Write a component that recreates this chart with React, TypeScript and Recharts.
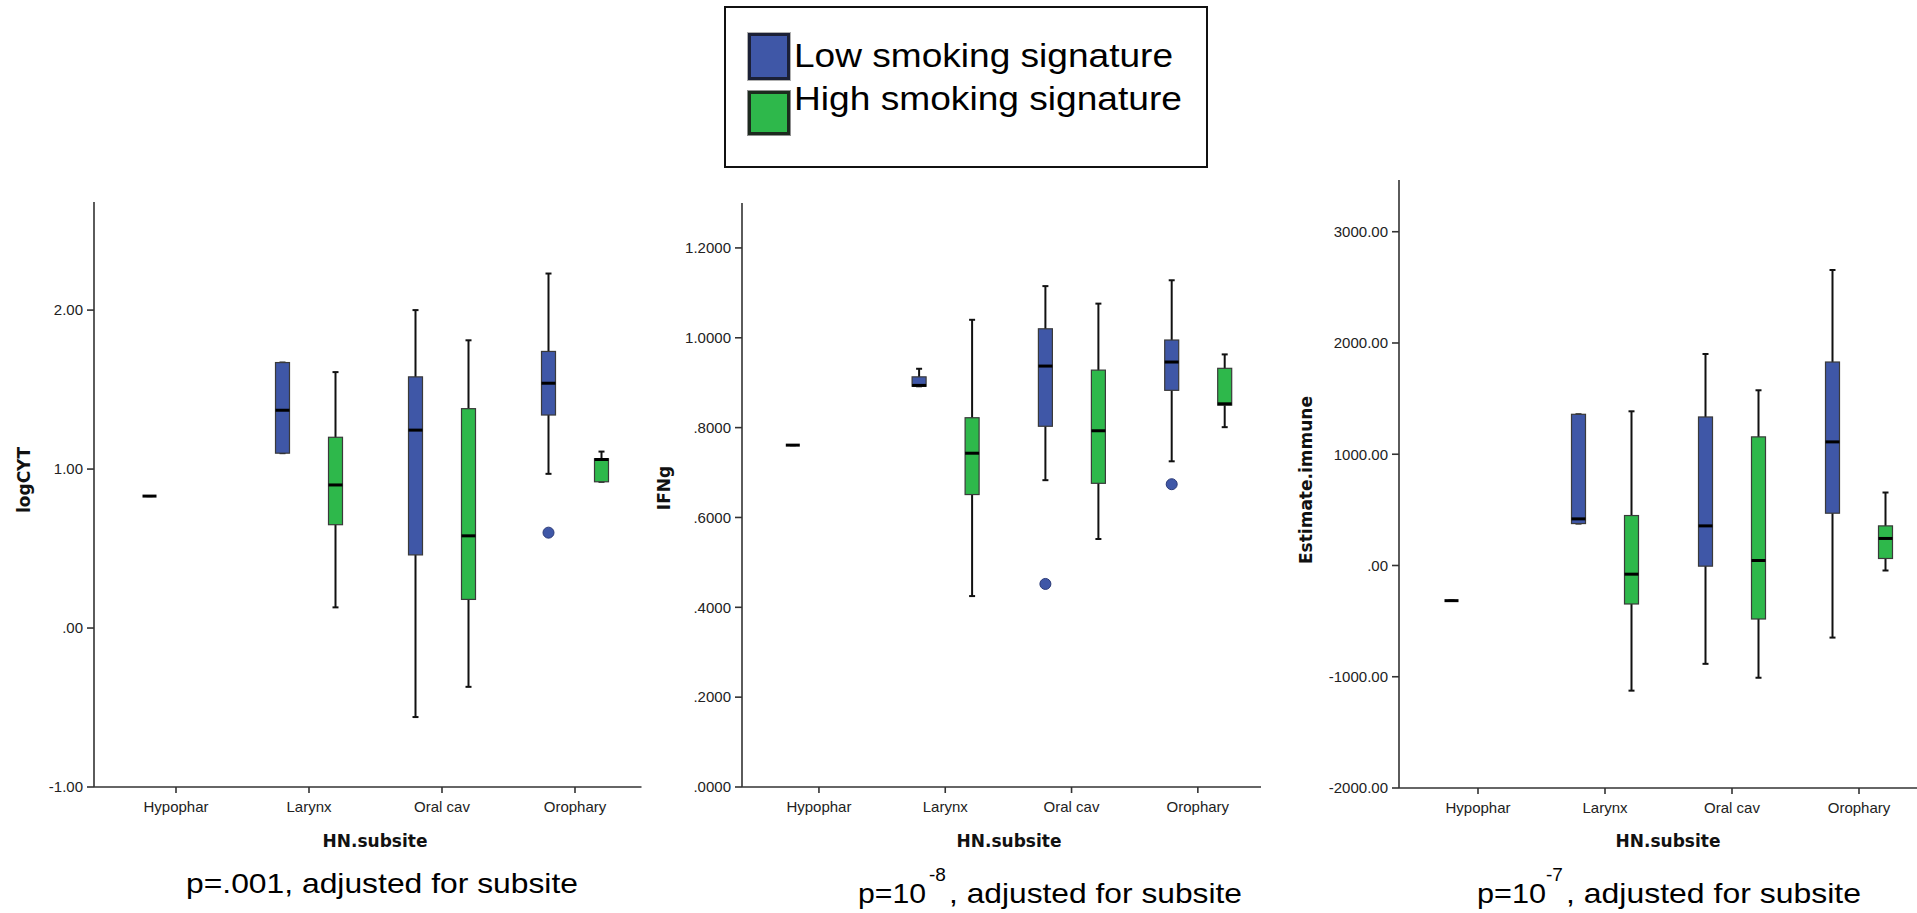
import React from "react";
import { ComposedChart, Bar, XAxis, YAxis } from "recharts";

// categories on the x axis
const subsites = ["Hypophar", "Larynx", "Oral cav", "Orophary"];

// box stats per subsite: [min, q1, median, q3, max]
const cytLow = [
  [0.83, 0.83, 0.83, 0.83, 0.83],
  [1.1, 1.1, 1.37, 1.67, 1.67],
  [-0.56, 0.46, 1.245, 1.58, 2.0],
  [0.97, 1.34, 1.54, 1.74, 2.23],
];
const cytHigh = [
  null,
  [0.13, 0.65, 0.9, 1.2, 1.61],
  [-0.37, 0.18, 0.58, 1.38, 1.81],
  [0.92, 0.92, 1.06, 1.065, 1.11],
];
const cytLowOutliers = [null, null, null, 0.6];
const cytHighOutliers = [null, null, null, null];

const ifnLow = [
  [0.761, 0.761, 0.761, 0.761, 0.761],
  [0.892, 0.892, 0.894, 0.913, 0.931],
  [0.683, 0.803, 0.937, 1.02, 1.115],
  [0.725, 0.883, 0.946, 0.995, 1.128],
];
const ifnHigh = [
  null,
  [0.425, 0.651, 0.743, 0.822, 1.04],
  [0.552, 0.676, 0.793, 0.928, 1.076],
  [0.801, 0.85, 0.853, 0.932, 0.963],
];
const ifnLowOutliers = [null, null, 0.452, 0.674];
const ifnHighOutliers = [null, null, null, null];

const immLow = [
  [-316, -316, -316, -316, -316],
  [377, 377, 419, 1359, 1359],
  [-884, -6, 356, 1335, 1901],
  [-648, 470, 1111, 1829, 2656],
];
const immHigh = [
  null,
  [-1125, -346, -78, 449, 1386],
  [-1009, -481, 45, 1156, 1575],
  [-45, 63, 243, 356, 656],
];
const immLowOutliers = [null, null, null, null];
const immHighOutliers = [null, null, null, null];

// y axis ticks
const cytTicks = [-1, 0, 1, 2];
const ifnTicks = [0, 0.2, 0.4, 0.6, 0.8, 1.0, 1.2];
const immTicks = [-2000, -1000, 0, 1000, 2000, 3000];

const groupNames = ["Low smoking signature", "High smoking signature"];

const BLUE = "#3F57A7";
const GREEN = "#2EB84B";
const TICK_FONT = "'Liberation Sans', Arial, sans-serif";
const BOLD_FONT = "'DejaVu Sans', Verdana, sans-serif";
const Y_AXIS_W = 80;
const X_AXIS_H = 30;
const H = 913;

type Stat = number[] | null;

function buildRows(low: Stat[], high: Stat[], lowOut: (number | null)[], highOut: (number | null)[]) {
  return subsites.map((cat, i) => {
    const l = low[i];
    const h = high[i];
    return {
      cat,
      lowWh: l ? [l[0], l[4]] : undefined,
      lowBox: l ? [l[1], l[3]] : undefined,
      lowMed: l ? [l[2], l[2]] : undefined,
      lowOut: lowOut[i] != null ? [lowOut[i], lowOut[i]] : undefined,
      highWh: h ? [h[0], h[4]] : undefined,
      highBox: h ? [h[1], h[3]] : undefined,
      highMed: h ? [h[2], h[2]] : undefined,
      highOut: highOut[i] != null ? [highOut[i], highOut[i]] : undefined,
    };
  });
}

const fmt = (digits: number) => (v: number) =>
  v.toFixed(digits).replace(/^(-?)0\./, "$1.");

const whiskerShape = (field: string) => (props: any) => {
  const { x, y, width, height, payload } = props;
  if (!payload || !payload[field]) return <g />;
  const cx = x + width / 2;
  return (
    <g>
      <line x1={cx} x2={cx} y1={y} y2={y + height} stroke="#111" strokeWidth={2} />
      <line x1={cx - 3} x2={cx + 3} y1={y} y2={y} stroke="#111" strokeWidth={2} />
      <line x1={cx - 3} x2={cx + 3} y1={y + height} y2={y + height} stroke="#111" strokeWidth={2} />
    </g>
  );
};

const boxShape = (field: string, color: string) => (props: any) => {
  const { x, y, width, height, payload } = props;
  if (!payload || !payload[field]) return <g />;
  return (
    <rect x={x} y={y} width={width} height={Math.max(height, 0)} fill={color} stroke="#3a3a3a" strokeWidth={1.2} />
  );
};

const medianShape = (field: string) => (props: any) => {
  const { x, y, width, payload } = props;
  if (!payload || !payload[field]) return <g />;
  return <line x1={x} x2={x + width} y1={y} y2={y} stroke="#000" strokeWidth={3} />;
};

const outlierShape = (field: string, color: string) => (props: any) => {
  const { x, y, width, payload } = props;
  if (!payload || !payload[field]) return <g />;
  return <circle cx={x + width / 2} cy={y} r={5.5} fill={color} stroke="#2b3a78" strokeWidth={1} />;
};

type PanelCfg = {
  left: number;
  right: number;
  top: number;
  bottom: number;
  pad: number;
  domain: [number, number];
  ticks: number[];
  digits: number;
};

function BoxPanel({ cfg, rows }: { cfg: PanelCfg; rows: any[] }) {
  const plotW = cfg.right - cfg.left;
  const axisStyle = { stroke: "#333", strokeWidth: 1.6 };
  const tick = { fontSize: 15, fill: "#222", fontFamily: TICK_FONT };
  const pad = { left: cfg.pad, right: 0 };
  return (
    <div style={{ position: "absolute", left: cfg.left - Y_AXIS_W, top: 0 }}>
      <ComposedChart
        width={Y_AXIS_W + plotW}
        height={H}
        data={rows}
        barGap={39}
        margin={{ top: cfg.top, bottom: H - cfg.bottom - X_AXIS_H, left: 0, right: 0 }}
      >
        <XAxis xAxisId="wh" dataKey="cat" hide padding={pad} />
        <XAxis xAxisId="med" dataKey="cat" hide padding={pad} />
        <XAxis xAxisId="out" dataKey="cat" hide padding={pad} />
        <XAxis
          xAxisId="box"
          dataKey="cat"
          height={X_AXIS_H}
          padding={pad}
          interval={0}
          tick={tick}
          tickSize={6}
          tickMargin={8}
          axisLine={axisStyle}
          tickLine={axisStyle}
        />
        <YAxis
          width={Y_AXIS_W}
          type="number"
          domain={cfg.domain}
          ticks={cfg.ticks}
          interval={0}
          tickFormatter={fmt(cfg.digits)}
          tick={tick}
          tickSize={7}
          tickMargin={4}
          axisLine={axisStyle}
          tickLine={axisStyle}
        />
        <Bar xAxisId="wh" dataKey="lowWh" barSize={14} isAnimationActive={false} shape={whiskerShape("lowWh")} />
        <Bar xAxisId="wh" dataKey="highWh" barSize={14} isAnimationActive={false} shape={whiskerShape("highWh")} />
        <Bar xAxisId="box" dataKey="lowBox" barSize={14} isAnimationActive={false} shape={boxShape("lowBox", BLUE)} />
        <Bar xAxisId="box" dataKey="highBox" barSize={14} isAnimationActive={false} shape={boxShape("highBox", GREEN)} />
        <Bar xAxisId="med" dataKey="lowMed" barSize={14} isAnimationActive={false} shape={medianShape("lowMed")} />
        <Bar xAxisId="med" dataKey="highMed" barSize={14} isAnimationActive={false} shape={medianShape("highMed")} />
        <Bar xAxisId="out" dataKey="lowOut" barSize={14} isAnimationActive={false} shape={outlierShape("lowOut", BLUE)} />
        <Bar xAxisId="out" dataKey="highOut" barSize={14} isAnimationActive={false} shape={outlierShape("highOut", GREEN)} />
      </ComposedChart>
    </div>
  );
}

const panels: PanelCfg[] = [
  { left: 94, right: 641.5, top: 202, bottom: 787, pad: 15.5, domain: [-1, 2.68], ticks: cytTicks, digits: 2 },
  { left: 742, right: 1261, top: 203, bottom: 787, pad: 13.8, domain: [0, 1.3], ticks: ifnTicks, digits: 4 },
  { left: 1399, right: 1922.5, top: 180, bottom: 788, pad: 15.5, domain: [-2000, 3465], ticks: immTicks, digits: 2 },
];

const panelRows = [
  buildRows(cytLow, cytHigh, cytLowOutliers, cytHighOutliers),
  buildRows(ifnLow, ifnHigh, ifnLowOutliers, ifnHighOutliers),
  buildRows(immLow, immHigh, immLowOutliers, immHighOutliers),
];

const yTitles = [
  { text: "logCYT", x: 24, y: 480 },
  { text: "IFNg", x: 664, y: 488 },
  { text: "Estimate.immune", x: 1306, y: 480 },
];
const xTitleCenters = [375, 1009, 1668];

function Overlay() {
  return (
    <svg width={1917} height={H} style={{ position: "absolute", left: 0, top: 0, pointerEvents: "none" }}>
      {/* legend */}
      <rect x={725} y={7} width={482} height={160} fill="#fff" stroke="#111" strokeWidth={2} />
      <rect x={747} y={32} width={44} height={49} fill="#b0b0b0" />
      <rect x={749.5} y={34.5} width={39} height={44} fill={BLUE} stroke="#1b2036" strokeWidth={3} />
      <rect x={747} y={90} width={44} height={46} fill="#909090" />
      <rect x={749.5} y={92.5} width={39} height={41} fill={GREEN} stroke="#1c2a1e" strokeWidth={3} />
      <text x={794} y={67} fontSize={33} fontFamily={TICK_FONT} fill="#000" textLength={379} lengthAdjust="spacingAndGlyphs">
        {groupNames[0]}
      </text>
      <text x={794} y={110} fontSize={33} fontFamily={TICK_FONT} fill="#000" textLength={388} lengthAdjust="spacingAndGlyphs">
        {groupNames[1]}
      </text>

      {yTitles.map((t) => (
        <text
          key={t.text}
          x={t.x}
          y={t.y}
          transform={`rotate(-90 ${t.x} ${t.y})`}
          textAnchor="middle"
          dominantBaseline="central"
          fontSize={17}
          fontWeight="bold"
          fontFamily={BOLD_FONT}
          fill="#111"
        >
          {t.text}
        </text>
      ))}
      {xTitleCenters.map((cx, i) => (
        <text key={i} x={cx} y={847} textAnchor="middle" fontSize={17} fontWeight="bold" fontFamily={BOLD_FONT} fill="#111">
          HN.subsite
        </text>
      ))}

      {/* p-value notes */}
      <text x={186} y={893} fontSize={28} fontFamily={TICK_FONT} fill="#000" textLength={392} lengthAdjust="spacingAndGlyphs">
        p=.001, adjusted for subsite
      </text>
      <text x={858} y={903} fontSize={28} fontFamily={TICK_FONT} fill="#000">
        <tspan textLength={68} lengthAdjust="spacingAndGlyphs">p=10</tspan>
        <tspan x={929} y={881} fontSize={19}>-8</tspan>
        <tspan x={949} y={903} textLength={293} lengthAdjust="spacingAndGlyphs">, adjusted for subsite</tspan>
      </text>
      <text x={1477} y={903} fontSize={28} fontFamily={TICK_FONT} fill="#000">
        <tspan textLength={69} lengthAdjust="spacingAndGlyphs">p=10</tspan>
        <tspan x={1546} y={881} fontSize={19}>-7</tspan>
        <tspan x={1566} y={903} textLength={295} lengthAdjust="spacingAndGlyphs">, adjusted for subsite</tspan>
      </text>
    </svg>
  );
}

export default function App() {
  return (
    <div style={{ position: "absolute", left: 0, top: 0, width: 1917, height: H, overflow: "hidden", background: "#fff" }}>
      {panels.map((cfg, i) => (
        <BoxPanel key={i} cfg={cfg} rows={panelRows[i]} />
      ))}
      <Overlay />
    </div>
  );
}
